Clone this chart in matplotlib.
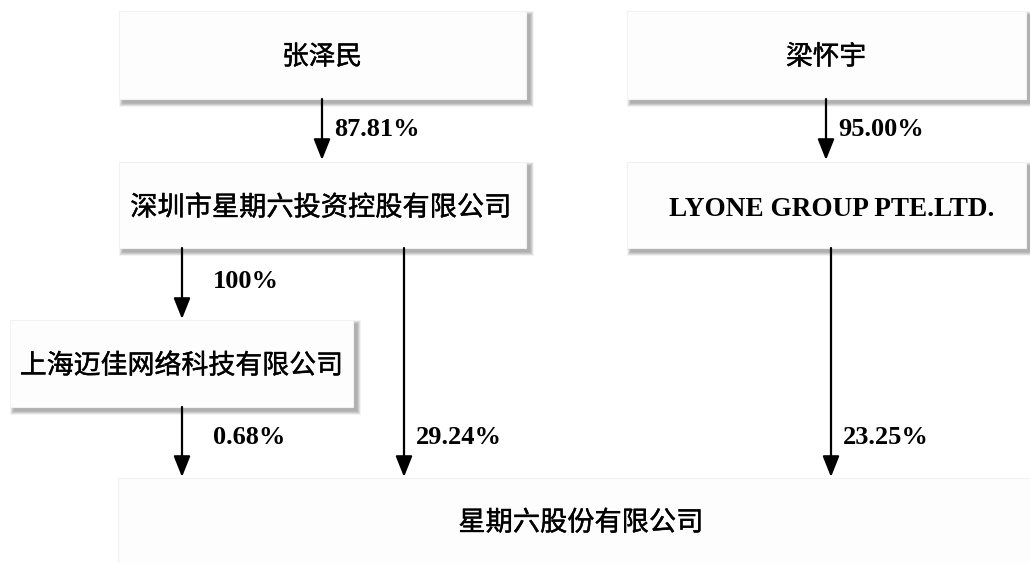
import matplotlib
matplotlib.use("Agg")
import matplotlib.pyplot as plt
from matplotlib.patches import Rectangle
import matplotlib.patheffects as pe

# ---- data ----
entities = ["张泽民", "梁怀宇", "深圳市星期六投资控股有限公司", "LYONE GROUP PTE.LTD.",
            "上海迈佳网络科技有限公司", "星期六股份有限公司"]
holdings = ["87.81%", "95.00%", "100%", "0.68%", "29.24%", "23.25%"]

# ---- layout (pixels) ----
W, H = 1030, 563
fig = plt.figure(figsize=(W / 100, H / 100), dpi=100)
ax = fig.add_axes([0, 0, 1, 1])
ax.set_xlim(0, W)
ax.set_ylim(H, 0)
ax.axis("off")

# boxes: (x0, y0, x1, y1, text_x, text_y, serif?, fontsize)
boxes = [
    (119, 11, 526, 99, 322, 57, False, 19.2),
    (627, 11, 1026, 99, 826, 57, False, 19.2),
    (119, 162, 526, 248, 321, 208, False, 19.6),
    (627, 162, 1026, 248, 832, 210, True, 19.6),
    (10, 320, 353, 407, 181, 366, False, 19.4),
    (118, 478, 1040, 572, 581, 523, False, 19.6),
]

def shadow_box(x0, y0, x1, y1):
    w, h = x1 - x0, y1 - y0
    # soft blurred shadow offset down-right
    n = 8
    for i in range(n):
        grow = (n - i) * 0.9
        ax.add_patch(Rectangle((x0 + 4 - grow / 2, y0 + 4 - grow / 2),
                               w + grow, h + grow, facecolor="black",
                               edgecolor="none", alpha=0.045, zorder=1))
    ax.add_patch(Rectangle((x0, y0), w, h, facecolor="#fdfdfd",
                           edgecolor="#f2f2f2", lw=0.8, zorder=2))

stroke = [pe.withStroke(linewidth=0.3, foreground="black")]

for (x0, y0, x1, y1, tx, ty, serif, fs), name in zip(boxes, entities):
    shadow_box(x0, y0, x1, y1)
    if serif:
        ax.text(tx, ty, name, ha="center", va="center", fontsize=fs,
                family=["Liberation Serif"], fontweight="bold", zorder=3)
    else:
        ax.text(tx, ty, name, ha="center", va="center", fontsize=fs,
                family=["Noto Sans CJK SC", "DejaVu Sans"], zorder=3,
                path_effects=stroke)

# arrows: (x, y_start, y_end, label_x, label_y)
arrows = [
    (322, 99, 160, 334, 130),
    (826, 99, 160, 838, 130),
    (182, 248, 319, 213, 281),
    (182, 407, 477, 213, 437),
    (404, 248, 477, 416, 437),
    (831, 248, 477, 843, 437),
]

for (x, ys, ye, lx, ly), lab in zip(arrows, holdings):
    ax.annotate("", xy=(x, ye), xytext=(x, ys),
                arrowprops=dict(arrowstyle="-|>,head_length=0.75,head_width=0.3",
                                mutation_scale=17, lw=1.6, color="black",
                                shrinkA=0, shrinkB=0), zorder=4)
    ax.text(lx, ly, lab, ha="left", va="center", fontsize=19,
            family=["Liberation Serif"], fontweight="bold", zorder=4)

fig.savefig("out.png", dpi=100)
